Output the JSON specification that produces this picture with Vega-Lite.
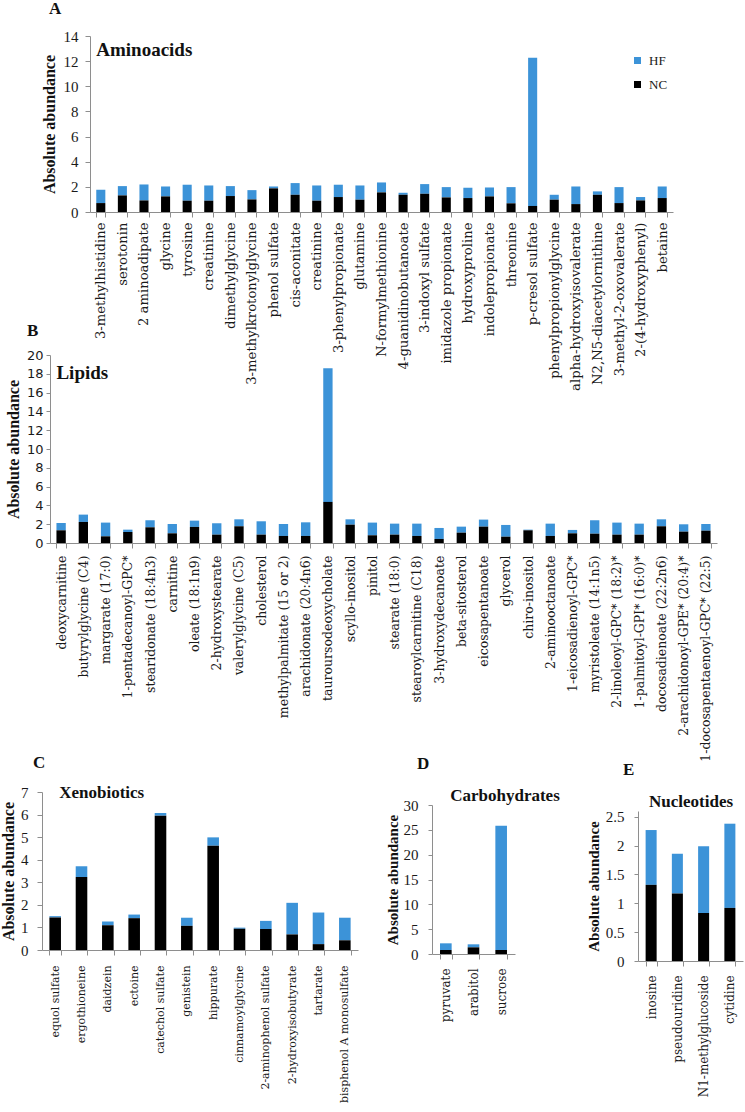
{
 "$schema": "https://vega.github.io/schema/vega-lite/v6.json",
 "background": "white",
 "padding": {"left": 0, "top": 0, "right": 2, "bottom": 2},
 "bounds": "flush",
 "spacing": 319,
 "resolve": {"scale": {"color": "independent"}, "legend": {"color": "independent"}},
 "config": {
  "view": {"stroke": null},
  "axis": {"grid": false, "domainColor": "#8e8e8e", "tickColor": "#8e8e8e", "labelColor": "#1a1a1a", "titleColor": "#111111", "labelOverlap": false},
  "axisQuantitative": {"labelOverlap": false}
 },
 "datasets": {
  "amino": [
   {"name": "3-methylhistidine", "NC": 0.71, "HF": 1.06},
   {"name": "serotonin", "NC": 1.32, "HF": 0.74},
   {"name": "2 aminoadipate", "NC": 0.92, "HF": 1.27},
   {"name": "glycine", "NC": 1.24, "HF": 0.79},
   {"name": "tyrosine", "NC": 0.90, "HF": 1.27},
   {"name": "creatinine", "NC": 0.90, "HF": 1.21},
   {"name": "dimethylglycine", "NC": 1.27, "HF": 0.79},
   {"name": "3-methylkrotonylglycine", "NC": 1.00, "HF": 0.74},
   {"name": "phenol sulfate", "NC": 1.88, "HF": 0.15},
   {"name": "cis-aconitate", "NC": 1.37, "HF": 0.93},
   {"name": "creatinine ", "NC": 0.90, "HF": 1.21},
   {"name": "3-phenylpropionate", "NC": 1.19, "HF": 0.98},
   {"name": "glutamine", "NC": 0.98, "HF": 1.13},
   {"name": "N-formylmethionine", "NC": 1.56, "HF": 0.79},
   {"name": "4-guanidinobutanoate", "NC": 1.37, "HF": 0.16},
   {"name": "3-indoxyl sulfate", "NC": 1.45, "HF": 0.77},
   {"name": "imidazole propionate", "NC": 1.16, "HF": 0.82},
   {"name": "hydroxyproline", "NC": 1.11, "HF": 0.82},
   {"name": "indolepropionate", "NC": 1.24, "HF": 0.71},
   {"name": "threonine", "NC": 0.69, "HF": 1.29},
   {"name": "p-cresol sulfate", "NC": 0.48, "HF": 11.78},
   {"name": "phenylpropionylglycine", "NC": 0.98, "HF": 0.39},
   {"name": "alpha-hydroxyisovalerate", "NC": 0.63, "HF": 1.40},
   {"name": "N2,N5-diacetylornithine", "NC": 1.37, "HF": 0.27},
   {"name": "3-methyl-2-oxovalerate", "NC": 0.71, "HF": 1.27},
   {"name": "2-(4-hydroxyphenyl)", "NC": 0.92, "HF": 0.27},
   {"name": "betaine", "NC": 1.11, "HF": 0.92}
  ],
  "lipids": [
   {"name": "deoxycarnitine", "NC": 1.35, "HF": 0.78},
   {"name": "butyrylglycine (C4)", "NC": 2.24, "HF": 0.78},
   {"name": "margarate (17:0)", "NC": 0.71, "HF": 1.46},
   {"name": "1-pentadecanoyl-GPC*", "NC": 1.17, "HF": 0.25},
   {"name": "stearidonate (18:4n3)", "NC": 1.67, "HF": 0.75},
   {"name": "carnitine", "NC": 1.03, "HF": 0.99},
   {"name": "oleate (18:1n9)", "NC": 1.71, "HF": 0.67},
   {"name": "2-hydroxystearate", "NC": 0.89, "HF": 1.21},
   {"name": "valerylglycine (C5)", "NC": 1.78, "HF": 0.74},
   {"name": "cholesterol", "NC": 0.89, "HF": 1.42},
   {"name": "methylpalmitate (15 or 2)", "NC": 0.75, "HF": 1.27},
   {"name": "arachidonate (20:4n6)", "NC": 0.75, "HF": 1.45},
   {"name": "tauroursodeoxycholate", "NC": 4.37, "HF": 14.23},
   {"name": "scyllo-inositol", "NC": 1.95, "HF": 0.57},
   {"name": "pinitol", "NC": 0.82, "HF": 1.35},
   {"name": "stearate (18:0)", "NC": 0.89, "HF": 1.17},
   {"name": "stearoylcarnitine (C18)", "NC": 0.75, "HF": 1.31},
   {"name": "3-hydroxydecanoate", "NC": 0.43, "HF": 1.17},
   {"name": "beta-sitosterol", "NC": 1.10, "HF": 0.64},
   {"name": "eicosapentanoate", "NC": 1.74, "HF": 0.75},
   {"name": "glycerol", "NC": 0.67, "HF": 1.25},
   {"name": "chiro-inositol", "NC": 1.35, "HF": 0.07},
   {"name": "2-aminooctanoate", "NC": 0.75, "HF": 1.31},
   {"name": "1-eicosadienoyl-GPC*", "NC": 1.03, "HF": 0.36},
   {"name": "myristoleate (14:1n5)", "NC": 0.99, "HF": 1.43},
   {"name": "2-linoleoyl-GPC* (18:2)*", "NC": 0.89, "HF": 1.28},
   {"name": "1-palmitoyl-GPI* (16:0)*", "NC": 0.89, "HF": 1.17},
   {"name": "docosadienoate (22:2n6)", "NC": 1.78, "HF": 0.74},
   {"name": "2-arachidonoyl-GPE* (20:4)*", "NC": 1.21, "HF": 0.78},
   {"name": "1-docosapentaenoyl-GPC* (22:5)", "NC": 1.31, "HF": 0.71}
  ],
  "xeno": [
   {"name": "equol sulfate", "NC": 1.44, "HF": 0.06},
   {"name": "ergothioneine", "NC": 3.23, "HF": 0.48},
   {"name": "daidzein", "NC": 1.10, "HF": 0.16},
   {"name": "ectoine", "NC": 1.41, "HF": 0.16},
   {"name": "catechol sulfate", "NC": 5.95, "HF": 0.12},
   {"name": "genistein", "NC": 1.07, "HF": 0.36},
   {"name": "hippurate", "NC": 4.62, "HF": 0.37},
   {"name": "cinnamoylglycine", "NC": 0.94, "HF": 0.05},
   {"name": "2-aminophenol sulfate", "NC": 0.93, "HF": 0.36},
   {"name": "2-hydroxyisobutyrate", "NC": 0.69, "HF": 1.40},
   {"name": "tartarate", "NC": 0.26, "HF": 1.40},
   {"name": "bisphenol A monosulfate", "NC": 0.43, "HF": 1.00}
  ],
  "carbs": [
   {"name": "pyruvate", "NC": 0.80, "HF": 1.35},
   {"name": "arabitol", "NC": 1.34, "HF": 0.61},
   {"name": "sucrose", "NC": 0.80, "HF": 25.0}
  ],
  "nucl": [
   {"name": "inosine", "NC": 1.32, "HF": 0.95},
   {"name": "pseudouridine", "NC": 1.17, "HF": 0.69},
   {"name": "N1-methylglucoside", "NC": 0.83, "HF": 1.16},
   {"name": "cytidine", "NC": 0.92, "HF": 1.46}
  ]
 },
 "vconcat": [
  {
   "bounds": "flush", "spacing": 0,
   "resolve": {"scale": {"color": "independent"}, "legend": {"color": "independent"}},
   "hconcat": [
    {"width": 48, "height": 10, "data": {"values": []}, "mark": "point", "encoding": {}},
    {
     "width": 583, "height": 176,
     "title": {"text": "A", "anchor": "start", "frame": "group", "dx": -41, "offset": 11, "fontSize": 17, "fontWeight": "bold", "font": "Liberation Serif", "color": "#111111"},
     "layer": [
      {
       "data": {"name": "amino"},
       "transform": [{"fold": ["HF", "NC"], "as": ["group", "value"]}],
       "mark": {"type": "bar"},
       "encoding": {
        "x": {"field": "name", "type": "nominal", "sort": null,
              "scale": {"domain": ["3-methylhistidine","serotonin","2 aminoadipate","glycine","tyrosine","creatinine","dimethylglycine","3-methylkrotonylglycine","phenol sulfate","cis-aconitate","creatinine ","3-phenylpropionate","glutamine","N-formylmethionine","4-guanidinobutanoate","3-indoxyl sulfate","imidazole propionate","hydroxyproline","indolepropionate","threonine","p-cresol sulfate","phenylpropionylglycine","alpha-hydroxyisovalerate","N2,N5-diacetylornithine","3-methyl-2-oxovalerate","2-(4-hydroxyphenyl)","betaine"], "paddingInner": 0.58, "paddingOuter": 0.29},
              "axis": {"title": null, "labelAngle": -90, "labelFont": "DejaVu Serif", "labelFontSize": 13.2, "labelPadding": 5, "tickSize": 5, "tickBand": "extent", "labelLimit": 300, "labelOverlap": false}},
        "y": {"field": "value", "type": "quantitative", "stack": "zero", "scale": {"domain": [0, 14]},
              "axis": {"title": "Absolute abundance", "values": [0,2,4,6,8,10,12,14], "labelOverlap": false, "labelFont": "Liberation Serif", "labelFontSize": 15, "labelPadding": 7, "tickSize": 5, "titleFont": "Liberation Serif", "titleFontSize": 16, "titleFontWeight": "bold", "titlePadding": 6}},
        "color": {"field": "group", "type": "nominal", "scale": {"domain": ["HF", "NC"], "range": ["#3c93d8", "#000000"]},
                  "legend": {"title": null, "orient": "none", "legendX": 541, "legendY": 18, "symbolType": "square", "symbolSize": 49, "symbolStrokeWidth": 0, "labelFont": "Liberation Serif", "labelFontSize": 13, "labelColor": "#1a1a1a", "rowPadding": 10, "labelOffset": 5}},
        "order": {"field": "group", "sort": "descending"}
       }
      },
      {
       "data": {"values": [{"label": "Aminoacids"}]},
       "mark": {"type": "text", "align": "left", "baseline": "middle", "font": "Liberation Serif", "fontSize": 19, "fontWeight": "bold", "color": "#111111"},
       "encoding": {"text": {"field": "label", "type": "nominal"}, "x": {"datum": "3-methylhistidine", "bandPosition": 0},
        "y": {"datum": 12.9, "type": "quantitative", "axis": {"title": "Absolute abundance", "values": [0,2,4,6,8,10,12,14], "labelOverlap": false, "labelFont": "Liberation Serif", "labelFontSize": 15, "labelPadding": 7, "tickSize": 5, "titleFont": "Liberation Serif", "titleFontSize": 16, "titleFontWeight": "bold", "titlePadding": 6}}}
      }
     ]
    }
   ]
  },
  {
   "bounds": "flush", "spacing": 437,
   "resolve": {"scale": {"color": "independent"}, "legend": {"color": "independent"}},
   "vconcat": [
    {
     "bounds": "flush", "spacing": 0,
     "resolve": {"scale": {"color": "independent"}, "legend": {"color": "independent"}},
     "hconcat": [
      {"width": 8, "height": 10, "data": {"values": []}, "mark": "point", "encoding": {}},
      {
       "width": 667, "height": 188,
       "title": {"text": "B", "anchor": "start", "frame": "group", "dx": -23, "offset": 9, "fontSize": 17, "fontWeight": "bold", "font": "Liberation Serif", "color": "#111111"},
       "layer": [
        {
         "data": {"name": "lipids"},
         "transform": [{"fold": ["HF", "NC"], "as": ["group", "value"]}],
         "mark": {"type": "bar"},
         "encoding": {
          "x": {"field": "name", "type": "nominal", "sort": null,
                "scale": {"domain": ["deoxycarnitine","butyrylglycine (C4)","margarate (17:0)","1-pentadecanoyl-GPC*","stearidonate (18:4n3)","carnitine","oleate (18:1n9)","2-hydroxystearate","valerylglycine (C5)","cholesterol","methylpalmitate (15 or 2)","arachidonate (20:4n6)","tauroursodeoxycholate","scyllo-inositol","pinitol","stearate (18:0)","stearoylcarnitine (C18)","3-hydroxydecanoate","beta-sitosterol","eicosapentanoate","glycerol","chiro-inositol","2-aminooctanoate","1-eicosadienoyl-GPC*","myristoleate (14:1n5)","2-linoleoyl-GPC* (18:2)*","1-palmitoyl-GPI* (16:0)*","docosadienoate (22:2n6)","2-arachidonoyl-GPE* (20:4)*","1-docosapentaenoyl-GPC* (22:5)"], "paddingInner": 0.58, "paddingOuter": 0.29},
                "axis": {"title": null, "labelAngle": -90, "labelFont": "DejaVu Serif", "labelFontSize": 12.5, "labelPadding": 7, "tickSize": 5, "tickBand": "extent", "labelLimit": 300, "labelOverlap": false}},
          "y": {"field": "value", "type": "quantitative", "stack": "zero", "scale": {"domain": [0, 20]},
                "axis": {"title": "Absolute abundance", "values": [0,2,4,6,8,10,12,14,16,18,20], "labelOverlap": false, "labelFont": "DejaVu Sans", "labelFontSize": 13, "labelPadding": 3, "tickSize": 4, "titleFont": "Liberation Serif", "titleFontSize": 16, "titleFontWeight": "bold", "titlePadding": 5}},
          "color": {"field": "group", "type": "nominal", "scale": {"domain": ["HF", "NC"], "range": ["#3c93d8", "#000000"]}, "legend": null},
          "order": {"field": "group", "sort": "descending"}
         }
        },
        {
         "data": {"values": [{"label": "Lipids"}]},
         "mark": {"type": "text", "align": "left", "baseline": "middle", "font": "Liberation Serif", "fontSize": 19, "fontWeight": "bold", "color": "#111111"},
         "encoding": {"text": {"field": "label", "type": "nominal"}, "x": {"datum": "deoxycarnitine", "bandPosition": 0},
          "y": {"datum": 18.1, "type": "quantitative", "axis": {"title": "Absolute abundance", "values": [0,2,4,6,8,10,12,14,16,18,20], "labelOverlap": false, "labelFont": "DejaVu Sans", "labelFontSize": 13, "labelPadding": 3, "tickSize": 4, "titleFont": "Liberation Serif", "titleFontSize": 16, "titleFontWeight": "bold", "titlePadding": 5}}}
        }
       ]
      }
     ]
    },
    {
     "bounds": "flush", "spacing": 74,
     "resolve": {"scale": {"color": "independent"}, "legend": {"color": "independent"}},
     "hconcat": [
      {
       "width": 316, "height": 158,
       "title": {"text": "C", "anchor": "start", "frame": "group", "dx": -9, "offset": 12, "fontSize": 17, "fontWeight": "bold", "font": "Liberation Serif", "color": "#111111"},
       "layer": [
        {
         "data": {"name": "xeno"},
         "transform": [{"fold": ["HF", "NC"], "as": ["group", "value"]}],
         "mark": {"type": "bar"},
         "encoding": {
          "x": {"field": "name", "type": "nominal", "sort": null,
                "scale": {"domain": ["equol sulfate","ergothioneine","daidzein","ectoine","catechol sulfate","genistein","hippurate","cinnamoylglycine","2-aminophenol sulfate","2-hydroxyisobutyrate","tartarate","bisphenol A monosulfate"], "paddingInner": 0.56, "paddingOuter": 0.28},
                "axis": {"title": null, "labelAngle": -90, "labelFont": "DejaVu Serif", "labelFontSize": 11, "labelPadding": 10, "tickSize": 5, "tickBand": "extent", "labelLimit": 300, "labelOverlap": false}},
          "y": {"field": "value", "type": "quantitative", "stack": "zero", "scale": {"domain": [0, 7]},
                "axis": {"title": "Absolute abundance", "values": [0,1,2,3,4,5,6,7], "labelOverlap": false, "labelFont": "Liberation Serif", "labelFontSize": 15, "labelPadding": 9, "tickSize": 5, "titleFont": "Liberation Serif", "titleFontSize": 16, "titleFontWeight": "bold", "titlePadding": 4}},
          "color": {"field": "group", "type": "nominal", "scale": {"domain": ["HF", "NC"], "range": ["#3c93d8", "#000000"]}, "legend": null},
          "order": {"field": "group", "sort": "descending"}
         }
        },
        {
         "data": {"values": [{"label": "Xenobiotics"}]},
         "mark": {"type": "text", "align": "left", "baseline": "middle", "font": "Liberation Serif", "fontSize": 17, "fontWeight": "bold", "color": "#111111"},
         "encoding": {"text": {"field": "label", "type": "nominal"}, "x": {"datum": "equol sulfate", "bandPosition": 0.85},
          "y": {"datum": 6.95, "type": "quantitative", "axis": {"title": "Absolute abundance", "values": [0,1,2,3,4,5,6,7], "labelOverlap": false, "labelFont": "Liberation Serif", "labelFontSize": 15, "labelPadding": 9, "tickSize": 5, "titleFont": "Liberation Serif", "titleFontSize": 16, "titleFontWeight": "bold", "titlePadding": 4}}}
        }
       ]
      },
      {
       "bounds": "flush", "spacing": 0,
       "resolve": {"scale": {"color": "independent"}, "legend": {"color": "independent"}},
       "vconcat": [
        {"width": 83, "height": 13, "data": {"values": []}, "mark": "point", "encoding": {}},
        {
         "width": 83, "height": 149,
         "title": {"text": "D", "anchor": "start", "frame": "group", "dx": -15, "offset": 14, "fontSize": 17, "fontWeight": "bold", "font": "Liberation Serif", "color": "#111111"},
         "layer": [
          {
           "data": {"name": "carbs"},
           "transform": [{"fold": ["HF", "NC"], "as": ["group", "value"]}],
           "mark": {"type": "bar"},
           "encoding": {
            "x": {"field": "name", "type": "nominal", "sort": null,
                  "scale": {"domain": ["pyruvate","arabitol","sucrose"], "paddingInner": 0.58, "paddingOuter": 0.29},
                  "axis": {"title": null, "labelAngle": -90, "labelFont": "DejaVu Serif", "labelFontSize": 12, "labelPadding": 9, "tickSize": 5, "tickBand": "extent", "labelLimit": 300, "labelOverlap": false}},
            "y": {"field": "value", "type": "quantitative", "stack": "zero", "scale": {"domain": [0, 30]},
                  "axis": {"title": "Absolute abundance", "values": [0,5,10,15,20,25,30], "labelOverlap": false, "labelFont": "Liberation Serif", "labelFontSize": 15, "labelPadding": 10, "tickSize": 4, "titleFont": "Liberation Serif", "titleFontSize": 15, "titleFontWeight": "bold", "titlePadding": 3}},
            "color": {"field": "group", "type": "nominal", "scale": {"domain": ["HF", "NC"], "range": ["#3c93d8", "#000000"]}, "legend": null},
            "order": {"field": "group", "sort": "descending"}
           }
          },
          {
           "data": {"values": [{"label": "Carbohydrates"}]},
           "mark": {"type": "text", "align": "center", "baseline": "middle", "font": "Liberation Serif", "fontSize": 17, "fontWeight": "bold", "color": "#111111"},
           "encoding": {"text": {"field": "label", "type": "nominal"}, "x": {"datum": "sucrose", "bandPosition": 0.83},
            "y": {"datum": 31.8, "type": "quantitative", "axis": {"title": "Absolute abundance", "values": [0,5,10,15,20,25,30], "labelOverlap": false, "labelFont": "Liberation Serif", "labelFontSize": 15, "labelPadding": 10, "tickSize": 4, "titleFont": "Liberation Serif", "titleFontSize": 15, "titleFontWeight": "bold", "titlePadding": 3}}}
          }
         ]
        }
       ]
      },
      {
       "bounds": "flush", "spacing": 0,
       "resolve": {"scale": {"color": "independent"}, "legend": {"color": "independent"}},
       "hconcat": [
        {"width": 132, "height": 1, "data": {"values": []}, "mark": "point", "encoding": {}},
        {
         "bounds": "flush", "spacing": 0,
         "resolve": {"scale": {"color": "independent"}, "legend": {"color": "independent"}},
         "vconcat": [
          {"width": 105, "height": 19, "data": {"values": []}, "mark": "point", "encoding": {}},
          {
           "width": 105, "height": 150,
           "title": {"text": "E", "anchor": "start", "frame": "group", "dx": -15, "offset": 14, "fontSize": 17, "fontWeight": "bold", "font": "Liberation Serif", "color": "#111111"},
           "layer": [
            {
             "data": {"name": "nucl"},
             "transform": [{"fold": ["HF", "NC"], "as": ["group", "value"]}],
             "mark": {"type": "bar"},
             "encoding": {
              "x": {"field": "name", "type": "nominal", "sort": null,
                    "scale": {"domain": ["inosine","pseudouridine","N1-methylglucoside","cytidine"], "paddingInner": 0.58, "paddingOuter": 0.29},
                    "axis": {"title": null, "labelAngle": -90, "labelFont": "DejaVu Serif", "labelFontSize": 12, "labelPadding": 9, "tickSize": 5, "tickBand": "extent", "labelLimit": 300, "labelOverlap": false}},
              "y": {"field": "value", "type": "quantitative", "stack": "zero", "scale": {"domain": [0, 2.5]},
                    "axis": {"title": "Absolute abundance", "values": [0,0.5,1,1.5,2,2.5], "format": "~g", "labelOverlap": false, "labelFont": "Liberation Serif", "labelFontSize": 15, "labelPadding": 10, "tickSize": 4, "titleFont": "Liberation Serif", "titleFontSize": 15, "titleFontWeight": "bold", "titlePadding": 4}},
              "color": {"field": "group", "type": "nominal", "scale": {"domain": ["HF", "NC"], "range": ["#3c93d8", "#000000"]}, "legend": null},
              "order": {"field": "group", "sort": "descending"}
             }
            },
            {
             "data": {"values": [{"label": "Nucleotides"}]},
             "mark": {"type": "text", "align": "center", "baseline": "middle", "font": "Liberation Serif", "fontSize": 17, "fontWeight": "bold", "color": "#111111"},
             "encoding": {"text": {"field": "label", "type": "nominal"}, "x": {"datum": "pseudouridine", "bandPosition": 1.74},
              "y": {"datum": 2.75, "type": "quantitative", "axis": {"title": "Absolute abundance", "values": [0,0.5,1,1.5,2,2.5], "format": "~g", "labelOverlap": false, "labelFont": "Liberation Serif", "labelFontSize": 15, "labelPadding": 10, "tickSize": 4, "titleFont": "Liberation Serif", "titleFontSize": 15, "titleFontWeight": "bold", "titlePadding": 4}}}
            }
           ]
          }
         ]
        }
       ]
      }
     ]
    }
   ]
  }
 ]
}
